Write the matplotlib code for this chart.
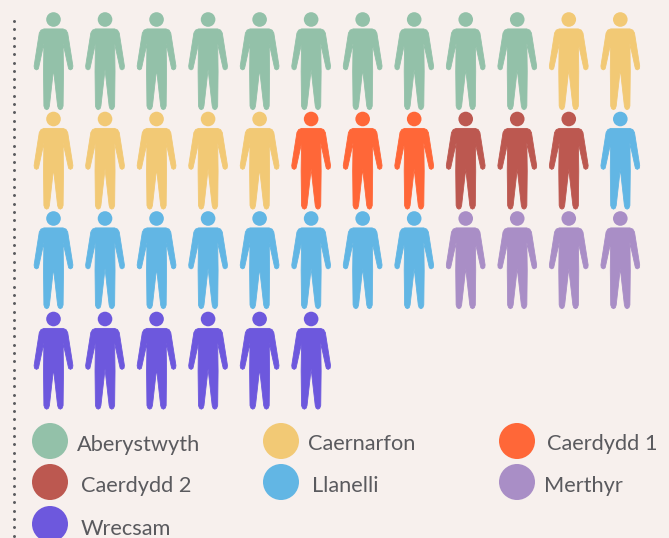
import matplotlib
matplotlib.use("Agg")
import matplotlib.pyplot as plt
import numpy as np
from matplotlib.path import Path
from matplotlib.patches import PathPatch, Circle

categories = ["Aberystwyth", "Caernarfon", "Caerdydd 1", "Caerdydd 2", "Llanelli", "Merthyr", "Wrecsam"]
counts = [10, 7, 3, 3, 9, 4, 6]
colors = ["#93C1A9", "#F2C975", "#FF6738", "#BC5850", "#62B6E4", "#A98EC6", "#6D58DD"]
BG = "#F7F0ED"
TXT = "#5A5A5E"

W, H = 669, 538
fig = plt.figure(figsize=(W/100, H/100), dpi=100, facecolor=BG)
ax = fig.add_axes([0, 0, 1, 1])
ax.set_xlim(0, W); ax.set_ylim(H, 0); ax.axis("off")

# half outline of a figure, relative to head centre
half = [(0, 9.4), (9.5, 9.4), (12.5, 10.6), (14.2, 13.5), (19.4, 46.5), (19.0, 49.2), (17.0, 50.4), (15.2, 49.4), (14.6, 47),
        (9.6, 24), (10.0, 52), (9.6, 86.5), (8.6, 89.2), (6.8, 90.2), (5.0, 89.2), (4.1, 86.5), (0, 50)]
outline = np.array(half + [(-x, y) for x, y in half[-2:0:-1]] + [half[0]])

def person(cx, cy, color):
    ax.add_patch(Circle((cx, cy), 7.3, fc=color, ec="none"))
    ax.add_patch(PathPatch(Path(outline + (cx, cy)), fc=color, ec=color, lw=0.6, joinstyle="round"))

col_x = np.linspace(53.5, 620.3, 12)
row_y = [19.5, 119, 218.5, 319]
seq = [c for c, n in zip(colors, counts) for _ in range(n)]
for i, c in enumerate(seq):
    r, k = divmod(i, 12)
    person(col_x[k], row_y[r], c)

# dotted axis
ax.scatter(np.full(64, 13.5), 21 + 8.3*np.arange(64), s=4.5, c="#5A5A5E", lw=0)

# legend
circle_xy = [(50, 441), (281, 441), (517, 441), (50, 482), (281, 482), (517, 482), (50, 524)]
text_xy = [(77, 445), (308, 444), (547, 444), (81, 486), (312, 486), (544, 486), (81, 529)]
for name, c, cxy, txy in zip(categories, colors, circle_xy, text_xy):
    ax.add_patch(Circle(cxy, 18, fc=c, ec="none"))
    ax.text(txy[0], txy[1], name, color=TXT, fontsize=15.7, family="Lato", va="center", ha="left")

fig.savefig("out.png", dpi=100, facecolor=BG)
